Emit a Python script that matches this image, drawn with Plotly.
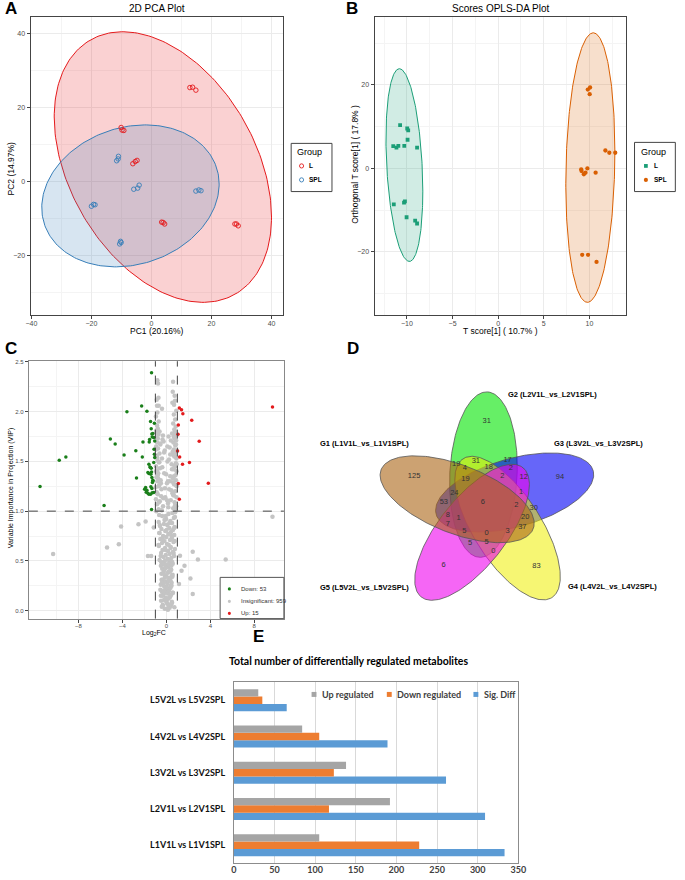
import numpy as np
import plotly.graph_objects as go

W, H = 685, 880
def X(p): return p / W
def Y(p): return 1 - p / H

BASE = "Liberation Sans"

# ---------------- Panel A : 2D PCA ----------------
pca_L_pc1 = [12.8, 13.7, 14.8, -10.1, -9.8, -9.2, -6.2, -5.4, -4.8, 3.4, 3.9, 4.4, 27.8, 28.3, 28.9]
pca_L_pc2 = [25.4, 25.5, 24.7, 14.6, 13.9, 13.8, 4.8, 5.4, 5.7, -11.0, -11.1, -11.5, -11.5, -11.5, -12.0]
pca_S_pc1 = [-11.6, -11.1, -11.0, -5.9, -4.6, -4.1, 14.8, 15.8, 16.5, -20.0, -19.3, -18.8, -10.6, -10.3, -10.1]
pca_S_pc2 = [5.6, 6.1, 6.8, -2.1, -1.8, -1.0, -2.6, -2.3, -2.5, -6.7, -6.2, -6.3, -16.9, -16.2, -16.5]
# confidence ellipses: centre x, centre y, half-width, half-height, correlation
pca_ell_L = [3.8, 3.9, 36.2, 36.6, -0.37]
pca_ell_S = [-7.0, -3.9, 29.55, 19.2, 0.166]

# ---------------- Panel B : OPLS-DA ----------------
opls_L_t = [-10.75, -11.5, -11.15, -10.94, -10.29, -9.97, -9.86, -9.93, -8.89, -11.44, -10.32, -10.22, -10.04, -9.1, -8.89]
opls_L_o = [10.4, 5.35, 5.0, 5.4, 5.4, 9.57, 9.1, 6.87, 5.0, -8.6, -8.2, -7.9, -11.7, -12.5, -13.2]
opls_S_t = [9.82, 10.07, 10.03, 11.75, 12.18, 12.83, 9.1, 9.14, 9.39, 9.57, 9.78, 10.68, 9.21, 9.85, 10.78]
opls_S_o = [18.9, 19.4, 17.8, 4.3, 3.76, 3.76, -0.24, -0.64, -1.4, -1.03, 0.0, -1.03, -20.7, -20.7, -22.4]
opls_ell_L = [-10.28, 0.8, 2.02, 23.1, -0.27]
opls_ell_S = [10.1, 0.2, 2.69, 32.3, 0.12]

# ---------------- Panel C : volcano (log2FC vs VIP) ----------------
down_fc = [-11.50, -9.75, -9.15, -5.67, -5.10, -4.66, -3.85, -3.59, -2.78, -2.72, -2.25, -2.19, -2.13, -1.77,
           -1.56, -1.53, -1.44, -1.38, -1.32, -1.29, -1.23, -1.15, -1.09, -1.06, -1.12, -1.09, -1.59, -1.50,
           -1.44, -1.38, -1.35, -1.41, -1.32, -1.23, -1.59, -1.68, -1.89, -1.77, -1.68, -1.59, -1.44, -1.29,
           -1.15, -1.98, -1.83, -1.35, -1.35, -1.15, -1.21, -1.06, -1.27, -1.41, -1.32]
down_vip = [1.247, 1.511, 1.545, 1.056, 1.725, 1.675, 1.565, 1.999, 1.608, 1.334, 2.056, 1.545, 1.695, 2.003,
            1.695, 1.719, 1.902, 1.829, 1.775, 1.745, 1.779, 1.739, 1.882, 1.705, 1.621, 1.571, 1.471, 1.444,
            1.438, 1.431, 1.394, 1.371, 1.337, 1.311, 1.378, 1.388, 1.237, 1.210, 1.180, 1.170, 1.170, 1.184,
            1.187, 1.220, 1.190, 1.016, 2.390, 1.488, 1.304, 1.538, 1.287, 1.244, 1.227]
up_fc = [1.18, 1.38, 1.50, 1.09, 1.06, 1.02, 1.21, 1.47, 2.10, 2.31, 2.99, 3.82, 9.66, 1.09, 1.18]
up_vip = [2.036, 2.019, 1.979, 1.866, 1.772, 1.605, 1.545, 1.471, 1.488, 1.913, 1.702, 1.280, 2.046, 1.277, 1.120]
ins_fc = [
    # scattered
    -10.31, -5.40, -4.33, -4.12, -2.54, -1.89, -1.68, -1.38, 9.66, 1.65, 2.19, 2.40, 2.40, 2.87, 5.40,
    1.24, 1.38, 1.15, 0.73, -1.15, -0.82, -0.76, 0.61, -0.85, -0.70, -0.40, 0.55, 0.79, 0.70,
    # column, low VIP
    -0.15, 0.22, 0.41, -0.33, 0.05, 0.50, -0.48, 0.12, -0.06, 0.35, -0.27, 0.18, 0.60, -0.40, 0.02, 0.28,
    -0.19, 0.47, -0.52, 0.09, -0.11, 0.38, -0.36, 0.24, 0.55, -0.03, -0.45, 0.15, 0.31, -0.22, 0.44, -0.08,
    0.19, -0.50, 0.07, 0.58, -0.30, 0.26, -0.14, 0.36,
    0.30, -0.42, 0.08, 0.52, -0.20, 0.16, -0.35, 0.44, -0.05, 0.25, -0.55, 0.38, 0.00, -0.28, 0.48, 0.11,
    -0.44, 0.33, -0.12, 0.57, -0.24, 0.20, 0.42, -0.38, 0.06, -0.17, 0.29, 0.53, -0.47, 0.14,
    0.10, -0.32, 0.46, -0.09, 0.27, -0.50, 0.58, -0.22, 0.04, 0.37, -0.41, 0.19, -0.14, 0.51, -0.27, 0.33,
    -0.04, 0.45, -0.36, 0.23,
    # column, mid VIP
    -0.62, 0.10, 0.45, -0.25, 0.70, -0.05, 0.30, -0.48, 0.58, 0.15, -0.35, 0.78, -0.12, 0.40, -0.68, 0.22,
    0.05, -0.40, 0.65, -0.20, 0.33, -0.55, 0.50, 0.00, -0.30, 0.72, 0.18, -0.65, 0.42, -0.10, 0.60, -0.45,
    0.27, 0.75, -0.58, 0.08, -0.22, 0.52, -0.70, 0.36, -0.02, 0.68, -0.38, 0.20, 0.80,
    0.12, -0.52, 0.66, -0.08, 0.38, -0.72, 0.74, -0.33, 0.47, -0.62, 0.02, 0.71, -0.60, 0.27, -0.17, 0.78,
    -0.66, 0.55, -0.06,
    # column, high VIP
    -0.92, 0.85, -0.70, 0.62, -0.30, 0.90, -0.85, 0.15, 0.75, -0.60, 0.40, -0.95, 0.92, -0.10, 0.68, -0.78,
    0.55, -0.88, 0.80, -0.45, 0.25, -0.97, 0.94, -0.66, 0.70, 0.05, -0.82, 0.88, -0.52, 0.60, -0.90, 0.35,
    0.83, -0.74, -0.20, 0.93, -0.86, 0.66, -0.58, 0.78, -0.94, 0.48, 0.87, -0.68, 0.10, -0.80, 0.91, -0.40,
    0.72, -0.89, 0.58, -0.63, 0.84, -0.15, 0.95, -0.76, 0.30, -0.93, 0.81, -0.55, 0.64, -0.84, 0.89, -0.35,
    0.74, -0.91, 0.20, 0.86, -0.72, 0.52, -0.87, 0.79, -0.62, 0.92, -0.25, 0.69, -0.96, 0.83, -0.80, 0.61,
    -0.42, 0.18, 0.79, -0.68, 0.06, -0.28, 0.63, -0.88, 0.44, -0.13, 0.86, -0.50, 0.32, -0.75, 0.69, -0.02,
    -0.92, 0.51, -0.37, 0.93, -0.64, 0.24, -0.83, 0.76, -0.21, 0.58, -0.94, 0.09, 0.88, -0.56, 0.41, -0.78,
    0.67, -0.31, 0.82, -0.89, 0.14, -0.47, 0.73, -0.70, 0.35,
    # column top
    -0.90, -0.78, -0.85, 0.72, 0.85, 0.62, -0.70, 0.80, -0.95, 0.68, -0.82, 0.90, -0.88, 0.75, 0.58, -0.72,
]
ins_vip = [
    0.568, 0.635, 0.668, 0.846, 0.869, 0.896, 0.548, 0.548, 0.943, 0.451, 0.324, 0.592, 0.167, 0.515, 0.515,
    0.552, 0.401, 0.267, 0.033, 0.836, 2.316, 2.283, 2.30, 2.06, 2.06, 2.03, 2.09, 2.11, 2.07,
    0.02, 0.04, 0.05, 0.06, 0.08, 0.09, 0.10, 0.12, 0.13, 0.14, 0.16, 0.17, 0.18, 0.19, 0.21, 0.22,
    0.24, 0.25, 0.26, 0.27, 0.29, 0.30, 0.31, 0.33, 0.34, 0.35, 0.37, 0.38, 0.39, 0.40, 0.41, 0.43,
    0.44, 0.45, 0.46, 0.47, 0.48, 0.49, 0.50, 0.50,
    0.03, 0.04, 0.07, 0.08, 0.11, 0.12, 0.15, 0.16, 0.18, 0.20, 0.21, 0.23, 0.24, 0.26, 0.28, 0.29,
    0.31, 0.32, 0.34, 0.36, 0.37, 0.39, 0.41, 0.42, 0.44, 0.46, 0.47, 0.49, 0.49, 0.01,
    0.02, 0.05, 0.07, 0.10, 0.13, 0.15, 0.18, 0.20, 0.23, 0.25, 0.28, 0.30, 0.33, 0.35, 0.38, 0.40,
    0.43, 0.45, 0.47, 0.06,
    0.51, 0.52, 0.53, 0.54, 0.55, 0.56, 0.57, 0.58, 0.59, 0.60, 0.61, 0.62, 0.63, 0.64, 0.65, 0.66,
    0.67, 0.68, 0.69, 0.70, 0.71, 0.72, 0.73, 0.74, 0.75, 0.76, 0.77, 0.78, 0.79, 0.80, 0.81, 0.82,
    0.83, 0.84, 0.85, 0.86, 0.87, 0.88, 0.89, 0.90, 0.92, 0.93, 0.95, 0.97, 0.99,
    0.52, 0.55, 0.58, 0.61, 0.63, 0.66, 0.70, 0.72, 0.75, 0.78, 0.81, 0.83, 0.86, 0.88, 0.91, 0.94,
    0.96, 0.98, 0.95,
    1.00, 1.02, 1.02, 1.03, 1.05, 1.05, 1.07, 1.08, 1.09, 1.10, 1.11, 1.12, 1.14, 1.14, 1.16, 1.17,
    1.18, 1.19, 1.20, 1.22, 1.22, 1.24, 1.25, 1.26, 1.27, 1.28, 1.30, 1.31, 1.31, 1.33, 1.34, 1.35,
    1.36, 1.38, 1.38, 1.40, 1.41, 1.42, 1.43, 1.45, 1.45, 1.47, 1.48, 1.49, 1.50, 1.51, 1.53, 1.53,
    1.55, 1.56, 1.57, 1.58, 1.59, 1.61, 1.61, 1.63, 1.64, 1.65, 1.66, 1.67, 1.69, 1.69, 1.71, 1.72,
    1.73, 1.74, 1.75, 1.77, 1.77, 1.78, 1.79, 1.80, 1.80, 1.76, 1.70, 1.62, 1.54, 1.46, 1.36, 1.29,
    1.01, 1.04, 1.06, 1.09, 1.11, 1.13, 1.16, 1.18, 1.21, 1.23, 1.26, 1.28, 1.30, 1.33, 1.35, 1.37,
    1.40, 1.42, 1.44, 1.47, 1.49, 1.52, 1.54, 1.56, 1.59, 1.60, 1.62, 1.65, 1.67, 1.68, 1.71, 1.73,
    1.75, 1.76, 1.78, 1.79, 1.30, 1.15, 1.44, 1.25, 1.57,
    1.81, 1.83, 1.86, 1.82, 1.85, 1.88, 1.90, 1.92, 1.95, 1.97, 1.99, 2.01, 2.12, 2.16, 2.20, 2.14,
]
n_down, n_ins, n_up = 53, 959, 15
fc_cut, vip_cut = 1, 1
fc_ticks = [-8, -4, 0, 4, 8]

# ---------------- Panel D : 5-set Venn ----------------
venn_names = ["G2 (L2V1L_vs_L2V1SPL)", "G3 (L3V2L_vs_L3V2SPL)", "G4 (L4V2L_vs_L4V2SPL)",
              "G5 (L5V2L_vs_L5V2SPL)", "G1 (L1V1L_vs_L1V1SPL)"]
venn_colors = ["rgba(0,228,0,0.6)", "rgba(0,0,245,0.6)", "rgba(238,238,0,0.55)",
               "rgba(238,0,238,0.6)", "rgba(170,100,20,0.6)"]
venn_cx = [487.7, 519.5, 512.3, 476.1, 460.9]
venn_cy = [473.7, 491.6, 527.3, 531.5, 498.4]
venn_angle = [87.2, 15.2, -56.8, -128.8, 159.2]
venn_a = [83, 83, 83, 83, 83]
venn_b = [34.3, 34.3, 34.3, 34.3, 34.3]
venn_counts = ["31", "19", "31", "17", "4", "18", "2", "125", "94", "19", "2", "12", "24", "1", "53", "6",
               "2", "30", "8", "1", "20", "7", "37", "5", "0", "3", "5", "5", "0", "6", "83"]
venn_lx = [491, 460, 480, 512.3, 468.7, 493, 515.7, 417, 565.7, 469.3, 507, 528.7, 458, 526, 447.3, 487,
           521.3, 539, 451.3, 462.3, 530.3, 451.3, 527.3, 468.3, 491, 512.3, 474, 491, 497.7, 447, 541.7]
venn_ly = [420, 462.7, 460, 459, 466.7, 466, 467.3, 475.7, 476, 478, 475.7, 476, 492.3, 491.7, 501, 501.7,
           504, 507.7, 514.3, 517.7, 516, 523.3, 526, 530, 532, 530, 542, 541.3, 550.3, 564.7, 565]

# ---------------- Panel E : bar chart ----------------
comparisons = ["L1V1L vs L1V1SPL", "L2V1L vs L2V1SPL", "L3V2L vs L3V2SPL", "L4V2L vs L4V2SPL", "L5V2L vs L5V2SPL"]
up_regulated = [105, 192, 138, 84, 30]
down_regulated = [228, 117, 123, 105, 35]
sig_diff = [333, 309, 261, 189, 65]


def ellipse(cx, cy, sx, sy, rho, n=241):
    t = np.linspace(0, 2 * np.pi, n)
    return cx + sx * np.cos(t), cy + sy * (rho * np.cos(t) + np.sqrt(1 - rho ** 2) * np.sin(t))


def rot_ellipse_px(cx, cy, a, b, ang, n=241):
    t = np.linspace(0, 2 * np.pi, n)
    ph = np.deg2rad(ang)
    x = cx + a * np.cos(ph) * np.cos(t) - b * np.sin(ph) * np.sin(t)
    y = cy - (a * np.sin(ph) * np.cos(t) + b * np.cos(ph) * np.sin(t))
    return x, y


fig = go.Figure()

RED, BLUE, GREEN, ORANGE = "#E41A1C", "#377EB8", "#1B9E77", "#D95F02"
C_DOWN, C_INS, C_UP = "#1A7F1A", "#C4C4C4", "#E31A1C"
E_UP, E_DOWN, E_SIG = "#A5A5A5", "#ED7D31", "#5B9BD5"

# --- A
for par, lc, fc in [(pca_ell_L, RED, "rgba(228,26,28,0.2)"), (pca_ell_S, BLUE, "rgba(55,126,184,0.2)")]:
    ex, ey = ellipse(*par)
    fig.add_trace(go.Scatter(x=ex, y=ey, mode="lines", fill="toself", fillcolor=fc,
                             line=dict(color=lc, width=1), showlegend=False, hoverinfo="skip",
                             xaxis="x", yaxis="y"))
fig.add_trace(go.Scatter(x=pca_L_pc1, y=pca_L_pc2, mode="markers", name="L", showlegend=False,
                         marker=dict(symbol="circle-open", size=4.5, color=RED, line=dict(width=0.9)),
                         xaxis="x", yaxis="y"))
fig.add_trace(go.Scatter(x=pca_S_pc1, y=pca_S_pc2, mode="markers", name="SPL", showlegend=False,
                         marker=dict(symbol="circle-open", size=4.5, color=BLUE, line=dict(width=0.9)),
                         xaxis="x", yaxis="y"))

# --- B
for par, lc, fc in [(opls_ell_L, GREEN, "rgba(27,158,119,0.2)"), (opls_ell_S, ORANGE, "rgba(217,95,2,0.2)")]:
    ex, ey = ellipse(*par)
    fig.add_trace(go.Scatter(x=ex, y=ey, mode="lines", fill="toself", fillcolor=fc,
                             line=dict(color=lc, width=1), showlegend=False, hoverinfo="skip",
                             xaxis="x2", yaxis="y2"))
fig.add_trace(go.Scatter(x=opls_L_t, y=opls_L_o, mode="markers", name="L", showlegend=False,
                         marker=dict(symbol="square", size=3.8, color=GREEN), xaxis="x2", yaxis="y2"))
fig.add_trace(go.Scatter(x=opls_S_t, y=opls_S_o, mode="markers", name="SPL", showlegend=False,
                         marker=dict(symbol="circle", size=4.3, color=ORANGE), xaxis="x2", yaxis="y2"))

# --- C
fig.add_trace(go.Scatter(x=ins_fc, y=ins_vip, mode="markers", name=f"Insignificant: {n_ins}", showlegend=False,
                         marker=dict(size=4.5, color=C_INS), xaxis="x3", yaxis="y3"))
fig.add_trace(go.Scatter(x=down_fc, y=down_vip, mode="markers", name=f"Down: {n_down}", showlegend=False,
                         marker=dict(size=3.5, color=C_DOWN), xaxis="x3", yaxis="y3"))
fig.add_trace(go.Scatter(x=up_fc, y=up_vip, mode="markers", name=f"Up: {n_up}", showlegend=False,
                         marker=dict(size=3.5, color=C_UP), xaxis="x3", yaxis="y3"))

# --- D
for i in range(5):
    ex, ey = rot_ellipse_px(venn_cx[i], venn_cy[i], venn_a[i], venn_b[i], venn_angle[i])
    fig.add_trace(go.Scatter(x=ex, y=ey, mode="lines", fill="toself", fillcolor=venn_colors[i],
                             line=dict(color="#555555", width=0.8), showlegend=False, hoverinfo="skip",
                             name=venn_names[i], xaxis="x4", yaxis="y4"))
fig.add_trace(go.Scatter(x=venn_lx, y=venn_ly, mode="text", text=venn_counts, showlegend=False,
                         textfont=dict(family=BASE, size=7.5, color="#333333"), xaxis="x4", yaxis="y4"))

# --- E  (first trace is the lowest bar of each group)
for vals, nm, col in [(sig_diff, "Sig. Diff", E_SIG), (down_regulated, "Down regulated", E_DOWN),
                      (up_regulated, "Up regulated", E_UP)]:
    fig.add_trace(go.Bar(x=vals, y=comparisons, orientation="h", name=nm, showlegend=False,
                         marker=dict(color=col, line=dict(width=0)), xaxis="x5", yaxis="y5"))

# ---------------- axes ----------------
grid = "#EBEBEB"
def gg_axis(domain, rng, dtick, minor_dtick, anchor, fmt=None, side="x"):
    d = dict(domain=domain, range=rng, anchor=anchor, dtick=dtick, tick0=0,
             showgrid=True, gridcolor=grid, gridwidth=1, zeroline=False,
             showline=True, mirror=True, linecolor="#444444", linewidth=1,
             ticks="outside", ticklen=3, tickcolor="#444444", tickwidth=1,
             tickfont=dict(family=BASE, size=7, color="#4D4D4D"),
             minor=dict(dtick=minor_dtick, showgrid=True, gridcolor="#F4F4F4", gridwidth=1, ticks=""))
    if side == "x":
        d["ticklabelstandoff"] = -2
    if fmt:
        d["tickformat"] = fmt
    return d

xa3 = gg_axis([X(24.3), X(284.3)], [-12.52, 10.70], 4, 2, "y3")
xa3.update(tickmode="array", tickvals=fc_ticks, minor=dict(tickmode="array", tickvals=[-10, -6, -2, 2, 6],
                                                             showgrid=True, gridcolor="#F4F4F4", ticks=""))
xa3["tickfont"] = dict(family=BASE, size=6, color="#4D4D4D")
xa3["linecolor"] = "#888888"
ya3 = gg_axis([Y(618), Y(360)], [-0.08, 2.507], 0.5, 0.25, "x3", fmt=".1f", side="y")
ya3["tickfont"] = dict(family=BASE, size=6, color="#4D4D4D")
ya3["linecolor"] = "#888888"

layout_axes = dict(
    xaxis=gg_axis([X(26), X(283.3)], [-40.3, 43.8], 20, 10, "y"),
    yaxis=gg_axis([Y(314), Y(15)], [-36.2, 44.5], 20, 10, "x", side="y"),
    xaxis2=gg_axis([X(376.7), X(633.3)], [-13.55, 14.04], 5, 2.5, "y2"),
    yaxis2=gg_axis([Y(314), Y(15)], [-35.2, 36.3], 20, 10, "x2", side="y"),
    xaxis3=xa3,
    yaxis3=ya3,
    xaxis4=dict(domain=[X(340), 1.0], range=[340, 685], anchor="y4", visible=False),
    yaxis4=dict(domain=[Y(620), Y(330)], range=[620, 330], anchor="x4", visible=False),
    xaxis5=dict(domain=[X(233.3), X(523.3)], range=[0, 350], anchor="y5", dtick=50,
                showgrid=True, gridcolor="#D9D9D9", zeroline=False, showline=True, mirror=True,
                linecolor="#8C8C8C", linewidth=1, ticks="", ticklen=0, ticklabelstandoff=-2,
                tickfont=dict(family="Lato", size=9, color="#404040", weight="bold")),
    yaxis5=dict(domain=[Y(863.3), Y(681.7)], anchor="x5", categoryorder="array", categoryarray=comparisons,
                showline=True, mirror=True, linecolor="#8C8C8C", linewidth=1, ticks="", ticklen=0,
                ticklabelstandoff=6, tickfont=dict(family="Lato", size=9, color="#111111", weight="bold")),
)

fig.update_layout(
    width=W, height=H, margin=dict(l=0, r=0, t=0, b=0),
    paper_bgcolor="white", plot_bgcolor="white",
    font=dict(family=BASE, size=8, color="#000000"),
    barmode="group", bargap=0.39, bargroupgap=0, showlegend=False,
    **layout_axes,
)

ann, shapes = [], []
def A(text, x, y, size=9, bold=False, xa="center", ya="middle", angle=0, color="#000000", family=BASE):
    ann.append(dict(text=text, x=X(x), y=Y(y), xref="paper", yref="paper", showarrow=False,
                    xanchor=xa, yanchor=ya, textangle=angle,
                    font=dict(family=family, size=size, color=color, weight="bold" if bold else "normal")))

def box(x0, y0, x1, y1, fill="rgba(0,0,0,0)", color="#444444"):
    shapes.append(dict(type="rect", xref="paper", yref="paper", x0=X(x0), x1=X(x1), y0=Y(y1), y1=Y(y0),
                       line=dict(color=color, width=1), fillcolor=fill, layer="above"))

def glyph(kind, x, y, r, color, hollow=False):
    shapes.append(dict(type=kind, xref="paper", yref="paper", x0=X(x - r), x1=X(x + r), y0=Y(y + r), y1=Y(y - r),
                       line=dict(color=color, width=0.9 if hollow else 0),
                       fillcolor="rgba(0,0,0,0)" if hollow else color, layer="above"))

# panel letters
A("A", 6, 7, 17, True)
A("B", 354, 7, 17, True)
A("C", 6, 347, 17, True)
A("D", 354.5, 347, 17, True)
A("E", 258.5, 636, 17, True)
# titles
A("2D PCA Plot", 155, 7, 10)
A("Scores OPLS-DA Plot", 505, 7, 10)
A("<b>Total number of differentially regulated metabolites</b>", 350.5, 661, 10.5, family="Lato")
# axis titles
A("PC1 (20.16%)", 155, 330, 8.5)
A("PC2 (14.97%)", 6, 167, 8.5, angle=-90)
A("T score[1] ( 10.7% )", 505, 330, 8.5)
A("Orthogonal T score[1] ( 17.8% )", 356, 163, 8.5, angle=-90)
A("Log<sub>2</sub>FC", 152, 632, 7)
A("Variable Importance in Projection (VIP)", 6.5, 487, 7, angle=-90)
# venn set labels
venn_lab_pos = [(510.7, 393.3, "left"), (557.3, 442.7, "left"), (571.7, 586.3, "left"),
                (414, 586.7, "right"), (414, 442.7, "right")]
for nm, (lx, ly, xa) in zip(venn_names, venn_lab_pos):
    A(nm, lx, ly, 7.5, True, xa, "middle")

# legend A
box(291.7, 141.7, 333.3, 190)
A("Group", 296, 150, 9, xa="left")
glyph("circle", 302.3, 164.3, 2.1, RED, hollow=True)
glyph("circle", 302.3, 178.3, 2.1, BLUE, hollow=True)
A("L", 308.3, 164.3, 6.5, True, xa="left")
A("SPL", 308.3, 178.3, 6.5, True, xa="left")
# legend B
box(641.7, 140.7, 683.3, 190)
A("Group", 646.7, 150, 9, xa="left")
glyph("rect", 653.3, 164.3, 1.9, GREEN)
glyph("circle", 653.3, 178.3, 2.1, ORANGE)
A("L", 659.3, 164.3, 6.5, True, xa="left")
A("SPL", 659.3, 178.3, 6.5, True, xa="left")
# legend C
box(219.3, 576.7, 284.3, 618, fill="white", color="#555555")
glyph("circle", 228.7, 588.3, 1.6, C_DOWN)
glyph("circle", 228.7, 600.7, 1.6, C_INS)
glyph("circle", 228.7, 612.7, 1.6, C_UP)
A(f"Down: {n_down}", 238.3, 588.3, 6, xa="left", color="#333333")
A(f"Insignificant: {n_ins}", 238.3, 600.7, 6, xa="left", color="#333333")
A(f"Up: {n_up}", 238.3, 612.7, 6, xa="left", color="#333333")
# legend E
for gx, tx, col, nm in [(315, 320.7, E_UP, "Up regulated"), (391.7, 397.3, E_DOWN, "Down regulated"),
                        (480, 486, E_SIG, "Sig. Diff")]:
    glyph("rect", gx, 694, 2.5, col)
    A(nm, tx, 694, 9, True, xa="left", color="#404040", family="Lato")

# reference lines of the volcano plot
ref_lines = [
    dict(type="line", xref="x3", yref="paper", x0=-fc_cut, x1=-fc_cut, y0=Y(618), y1=Y(360),
         line=dict(color="#444444", width=1, dash="dash")),
    dict(type="line", xref="x3", yref="paper", x0=fc_cut, x1=fc_cut, y0=Y(618), y1=Y(360),
         line=dict(color="#444444", width=1, dash="dash")),
    dict(type="line", xref="paper", yref="y3", x0=X(24.3), x1=X(284.3), y0=vip_cut, y1=vip_cut,
         line=dict(color="#444444", width=1, dash="dash")),
]
shapes = ref_lines + shapes

fig.update_layout(annotations=ann, shapes=shapes)
fig.write_html("out.html", config={"displayModeBar": False},
               post_script="document.body.style.margin='0';")
